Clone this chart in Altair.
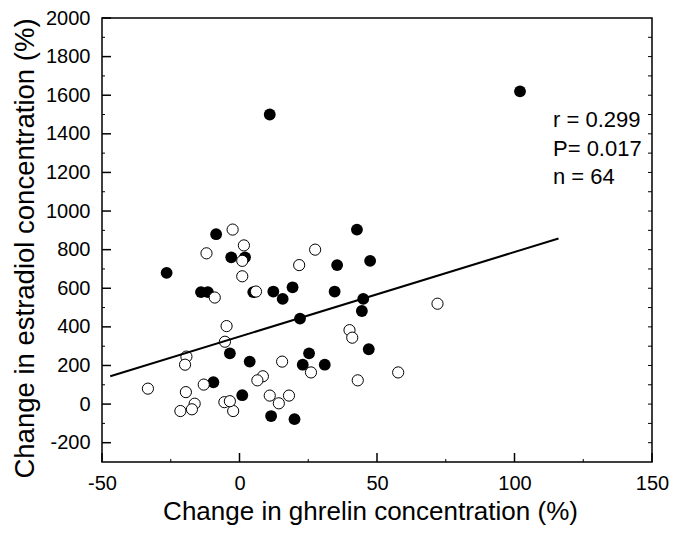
import altair as alt
import pandas as pd

# ---- data ----
filled_x = [102, 11, -26.5, -8.5, -14, -11.5, -3, 2, 5, 12.3, 15.7, 19.3, 35.5, 34.6,
            42.7, 47.5, 45, 44.5, 22, 25.3, 23, 31, 47, 11.5, 20, -3.5, 3.7, -9.5, 1]
filled_y = [1620, 1500, 680, 880, 580, 580, 760, 760, 580, 583, 545, 605, 720, 583,
            904, 742, 545, 482, 443, 263, 204, 204, 284, -62, -78, 263, 220, 113, 46]
open_x = [72, 40, 41, 15.5, 8.5, 6.5, 26, 43, 57.7, 11, 18, 14.3, 27.5, 21.7, 6,
          -2.5, -12, 1.6, 1, 1, -9, -4.7, -5.3, -19.3, -19.8, -33.3, -13, -19.5,
          -16.3, -17.3, -21.5, -5.5, -2.3, -3.5]
open_y = [520, 383, 344, 220, 144, 123, 164, 123, 164, 44, 44, 4, 800, 720, 583,
          904, 781, 822, 742, 662, 552, 404, 323, 246, 204, 80, 101, 62,
          2, -27, -36, 10, -36, 15]
fit_x = [-47, 116]
fit_y = [144, 858]
x_labels = [-50, 0, 50, 100, 150]
x_minor = [-25, 25, 75, 125]
y_labels = [-200, 0, 200, 400, 600, 800, 1000, 1200, 1400, 1600, 1800, 2000]
y_minor = [-100, 100, 300, 500, 700, 900, 1100, 1300, 1500, 1700, 1900]
y_right = [-200, -100, 0, 100, 200, 300, 400, 500, 600, 700, 800, 900, 1000, 1100,
           1200, 1300, 1400, 1500, 1600, 1700, 1800, 1900]
stats_text = ["r = 0.299", "P= 0.017", "n = 64"]
x_title = "Change in ghrelin concentration (%)"
y_title = "Change in estradiol concentration (%)"

FONT = "Liberation Sans"
W, H = 550, 444

xs = alt.Scale(domain=[-50, 150], nice=False, zero=False)
ys = alt.Scale(domain=[-300, 2000], nice=False, zero=False)

df_f = pd.DataFrame({"x": filled_x, "y": filled_y})
df_o = pd.DataFrame({"x": open_x, "y": open_y})
df_fit = pd.DataFrame({"x": fit_x, "y": fit_y})

x_axis = alt.Axis(values=x_labels, ticks=False, domain=False, grid=False, labelFlush=False,
                  labelExpr="'' + datum.value",
                  labelFontSize=20, labelPadding=11, labelFont=FONT, labelColor="black",
                  title=x_title, titleFont=FONT, titleFontSize=26, titleFontWeight="normal",
                  titleColor="black", titleX=268, titleY=49, titleBaseline="middle")
y_axis = alt.Axis(values=y_labels, ticks=False, domain=False, grid=False, labelFlush=False,
                  labelExpr="'' + datum.value",
                  labelFontSize=20, labelPadding=12, labelFont=FONT, labelColor="black",
                  title=y_title, titleFont=FONT, titleFontSize=27.5, titleFontWeight="normal",
                  titleColor="black", titleX=-91, titleY=230, titleBaseline="top")

X = alt.X("x:Q", scale=xs, axis=x_axis, title=x_title)
Y = alt.Y("y:Q", scale=ys, axis=y_axis, title=y_title)

filled = alt.Chart(df_f).mark_circle(size=140, color="black", opacity=1).encode(x=X, y=Y)
opened = alt.Chart(df_o).mark_point(shape="circle", size=125, fill="white", stroke="black",
                                    strokeWidth=1, opacity=1, filled=False,
                                    fillOpacity=1).encode(x=X, y=Y)
fit = alt.Chart(df_fit).mark_line(color="black", strokeWidth=2).encode(x=X, y=Y)

# inward ticks
bx_major = alt.Chart(pd.DataFrame({"x": x_labels})).mark_rule(color="black", strokeWidth=1.5).encode(
    x=X, y=alt.value(H), y2=alt.value(H - 9))
bx_minor = alt.Chart(pd.DataFrame({"x": x_minor})).mark_rule(color="black", strokeWidth=1).encode(
    x=X, y=alt.value(H), y2=alt.value(H - 3))
ly_major = alt.Chart(pd.DataFrame({"y": y_labels})).mark_rule(color="black", strokeWidth=1.5).encode(
    y=Y, x=alt.value(0), x2=alt.value(9))
ly_minor = alt.Chart(pd.DataFrame({"y": y_minor})).mark_rule(color="black", strokeWidth=1).encode(
    y=Y, x=alt.value(0), x2=alt.value(3))
ry = alt.Chart(pd.DataFrame({"y": y_right})).mark_rule(color="black", strokeWidth=1).encode(
    y=Y, x=alt.value(W), x2=alt.value(W - 4))

stats = alt.Chart(pd.DataFrame({"k": [0]})).mark_text(
    text=stats_text, font=FONT, fontSize=22, align="left", baseline="alphabetic",
    lineHeight=28.5, color="black").encode(x=alt.value(451), y=alt.value(109))

chart = alt.layer(filled, opened, fit, bx_major, bx_minor, ly_major, ly_minor, ry, stats).properties(
    width=W, height=H,
    autosize=alt.AutoSizeParams(type="none"),
    padding={"left": 94, "top": 10, "right": 17, "bottom": 66},
    background="white",
).configure_view(stroke="black", strokeWidth=1.5)

chart.save("out.html", embed_options={"renderer": "svg", "actions": False})
